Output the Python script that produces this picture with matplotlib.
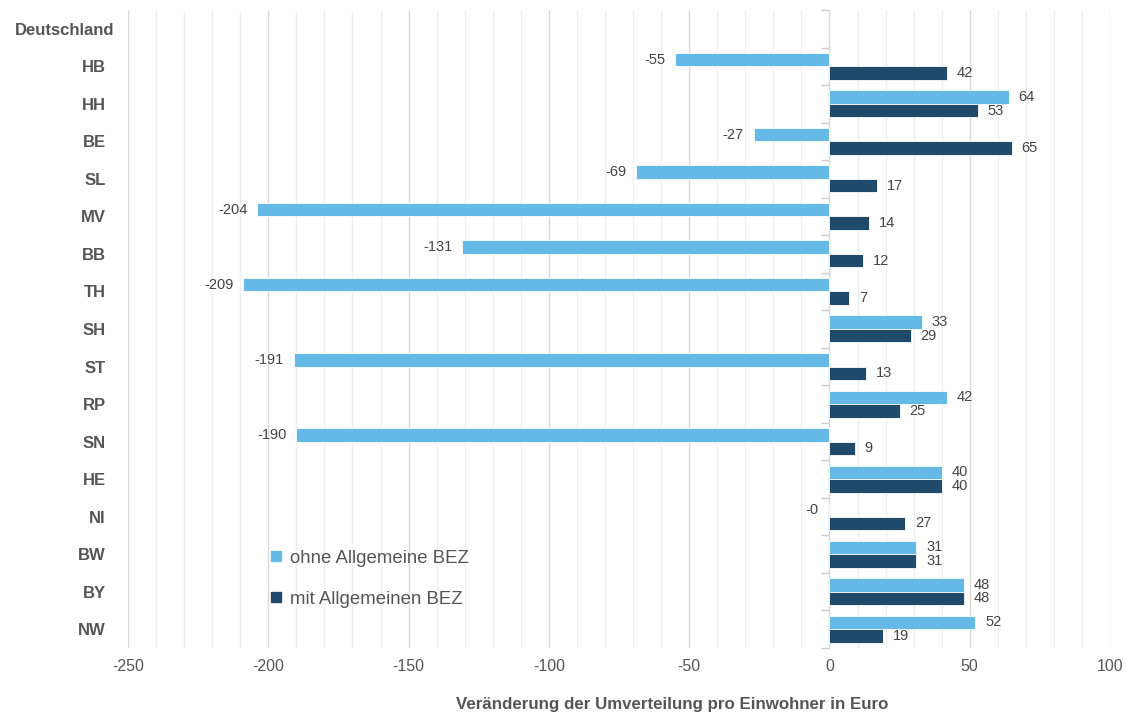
import matplotlib.pyplot as plt
from matplotlib.lines import Line2D
from matplotlib.ticker import MultipleLocator
from matplotlib.transforms import ScaledTranslation
import numpy as np

plt.rcParams['font.family'] = ['Liberation Sans', 'DejaVu Sans']
plt.rcParams['axes.unicode_minus'] = False

laender = ["Deutschland", "HB", "HH", "BE", "SL", "MV", "BB", "TH", "SH",
           "ST", "RP", "SN", "HE", "NI", "BW", "BY", "NW"]
ohne_bez = [np.nan, -55, 64, -27, -69, -204, -131, -209, 33,
            -191, 42, -190, 40, -0.3, 31, 48, 52]
mit_bez = [np.nan, 42, 53, 65, 17, 14, 12, 7, 29,
           13, 25, 9, 40, 27, 31, 48, 19]
serien = ["ohne Allgemeine BEZ", "mit Allgemeinen BEZ"]
farben = ["#64B9E7", "#1F4A6B"]

xmin, xmax = -250, 100


def main():
    fig = plt.figure(figsize=(11.26, 7.13), dpi=100)
    ax = fig.add_axes([0.1137, 0.0912, 0.8721, 0.8948])

    n = len(laender)
    y = np.arange(n)
    h = 0.36

    for werte, off, farbe in [(ohne_bez, -h / 2, farben[0]), (mit_bez, h / 2, farben[1])]:
        ax.barh(y + off, werte, height=h, color=farbe, edgecolor="white",
                linewidth=0.6, zorder=3)
        for yi, v in zip(y + off, werte):
            if np.isnan(v):
                continue
            if v < 0:
                ax.annotate(f"{v:.0f}", (v, yi), xytext=(-7, 0), textcoords="offset points",
                            ha="right", va="center", fontsize=10.5, color="#444444")
            else:
                ax.annotate(f"{v:.0f}", (v, yi), xytext=(7, 0), textcoords="offset points",
                            ha="left", va="center", fontsize=10.5, color="#444444")

    ax.set_xlim(xmin, xmax)
    ax.set_ylim(n - 0.5, -0.5)
    ax.set_yticks(y)
    ax.set_yticklabels(laender, fontsize=12, fontweight="bold", color="#555555")
    ax.tick_params(axis="y", length=0, pad=16)
    # die lange Beschriftung etwas nach rechts rücken
    lbl = ax.get_yticklabels()[0]
    lbl.set_transform(lbl.get_transform() + ScaledTranslation(0.09, 0, fig.dpi_scale_trans))

    ax.xaxis.set_major_locator(MultipleLocator(50))
    ax.xaxis.set_minor_locator(MultipleLocator(10))
    ax.tick_params(axis="x", which="both", length=0, labelsize=11.5,
                   labelcolor="#555555", pad=8)
    ax.grid(axis="x", which="major", color="#D9D9D9", linewidth=1, zorder=0)
    ax.grid(axis="x", which="minor", color="#EEEEEE", linewidth=1, zorder=0)
    for s in ax.spines.values():
        s.set_visible(False)

    # Nulllinie mit Trennstrichen zwischen den Ländern
    loc0 = (0 - xmin) / (xmax - xmin)
    sec = ax.secondary_yaxis(loc0)
    sec.yaxis.set_ticks_position("left")
    sec.set_yticks(np.arange(n + 1) - 0.5)
    sec.set_yticklabels([])
    sec.tick_params(length=6, color="#CCCCCC", width=1, direction="out")
    for s in sec.spines.values():
        s.set_color("#CCCCCC")

    ax.set_xlabel("Veränderung der Umverteilung pro Einwohner in Euro",
                  fontsize=12.2, fontweight="bold", color="#555555")
    ax.xaxis.set_label_coords(0.554, -0.077)

    handles = [Line2D([], [], marker="s", linestyle="none", markersize=7,
                      color=f) for f in farben]
    leg = ax.legend(handles, serien, loc="upper left", bbox_to_anchor=(0.136, 0.166),
                    frameon=False, fontsize=13.4, labelspacing=1.3,
                    handletextpad=0.35, handlelength=0.8, borderaxespad=0)
    for t in leg.get_texts():
        t.set_color("#555555")

    plt.savefig("out.png")


if __name__ == "__main__":
    main()
